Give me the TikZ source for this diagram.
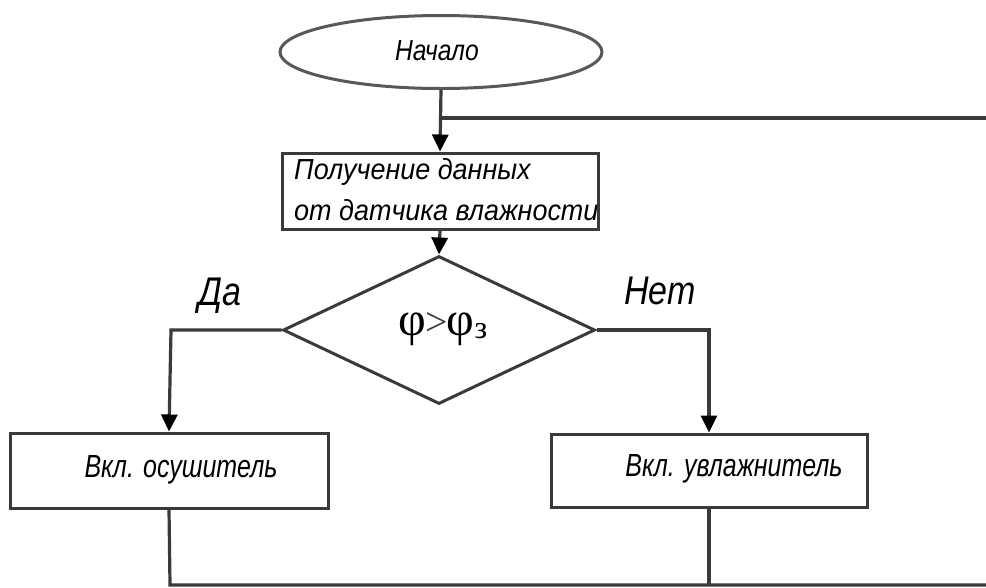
\documentclass[tikz,border=0pt]{standalone}
\usepackage{fontspec}
\setmainfont{Liberation Sans}
\newfontfamily\drawfont{Liberation Sans}[FakeStretch=0.85]
\newfontfamily\widefont{Liberation Sans}[FakeStretch=0.93]
\newfontfamily\narrowfont{Liberation Sans}[FakeStretch=0.78]
\newfontfamily\formulafont{Liberation Serif}
\usetikzlibrary{arrows.meta,shapes.geometric}
\definecolor{linegray}{HTML}{3A3A3A}
\tikzset{
  flowline/.style={draw=linegray,line width=3.2pt},
  flowarrow/.style={flowline,-{Triangle[length=17pt,width=16pt,color=black]}},
  procbox/.style={draw=linegray,line width=3pt,rectangle,inner sep=0pt},
  terminal/.style={draw=linegray!85,line width=3pt,ellipse,inner sep=0pt},
  decision/.style={draw=linegray,line width=3pt,diamond,inner sep=0pt},
  boxtext/.style={font=\drawfont\itshape\fontsize{29}{32}\selectfont,inner sep=0pt},
  topboxtext/.style={font=\widefont\itshape\fontsize{29}{32}\selectfont,inner sep=0pt},
  bigboxtext/.style={font=\narrowfont\itshape\fontsize{32}{36}\selectfont,inner sep=0pt},
  branchtext/.style={font=\drawfont\itshape\fontsize{40}{42}\selectfont,inner sep=0pt}
}
\begin{document}
\begin{tikzpicture}[x=1pt,y=-1pt]
  \useasboundingbox (0,0) rectangle (986,587);

  % blocks
  \node[terminal,minimum width=322pt,minimum height=73pt] (start) at (441,52) {};
  \node[boxtext] (starttxt) at (437,51) {Начало};

  \node[procbox,minimum width=316pt,minimum height=76pt] (get) at (440,191) {};
  \node[topboxtext,anchor=west] (gettxt1) at (294,172) {Получение данных};
  \node[topboxtext,anchor=west] (gettxt2) at (294,210) {от датчика влажности};

  \node[decision,minimum width=312pt,minimum height=148pt] (dec) at (439,330) {};
  \node[font=\formulafont\fontsize{48}{50}\selectfont,inner sep=0pt] (cond) at (443,329)
    {φ\kern-1pt{\fontsize{40}{40}\selectfont\color{linegray}>}\kern-1pt φ\raisebox{-0.15ex}{\fontsize{32}{32}\selectfont з}};

  \node[procbox,minimum width=318pt,minimum height=75pt] (dry) at (169,470.5) {};
  \node[bigboxtext] (drytxt) at (181,470) {Вкл. осушитель};

  \node[procbox,minimum width=316pt,minimum height=73pt] (wet) at (709,470.5) {};
  \node[bigboxtext] (wettxt) at (734,469) {Вкл. увлажнитель};

  % branch labels
  \node[branchtext] (yes) at (220,296) {Да};
  \node[branchtext] (no) at (660,291) {Нет};

  % loop-back route
  \coordinate (join) at (441,118);
  \coordinate (topright) at (986,118);
  \coordinate (botright) at (986,585);
  \coordinate (drycorner) at (170,585);
  \coordinate (wetjoin) at (709,585);
  \coordinate (leftturn) at (171,330);
  \coordinate (rightturn) at (709,330);

  % connectors
  \draw[flowarrow] (start.south) -- (get.north);
  \draw[flowline] (topright) -- (join);
  \draw[flowarrow] (get.south) -- (dec.north);
  \draw[flowarrow] (dec.west) -- (leftturn) -- (dry.north);
  \draw[flowarrow] (dec.east) -- (rightturn) -- (wet.north);
  \draw[flowline] (dry.south) -- (drycorner) -- (botright);
  \draw[flowline] (wet.south) -- (wetjoin);
\end{tikzpicture}
\end{document}
